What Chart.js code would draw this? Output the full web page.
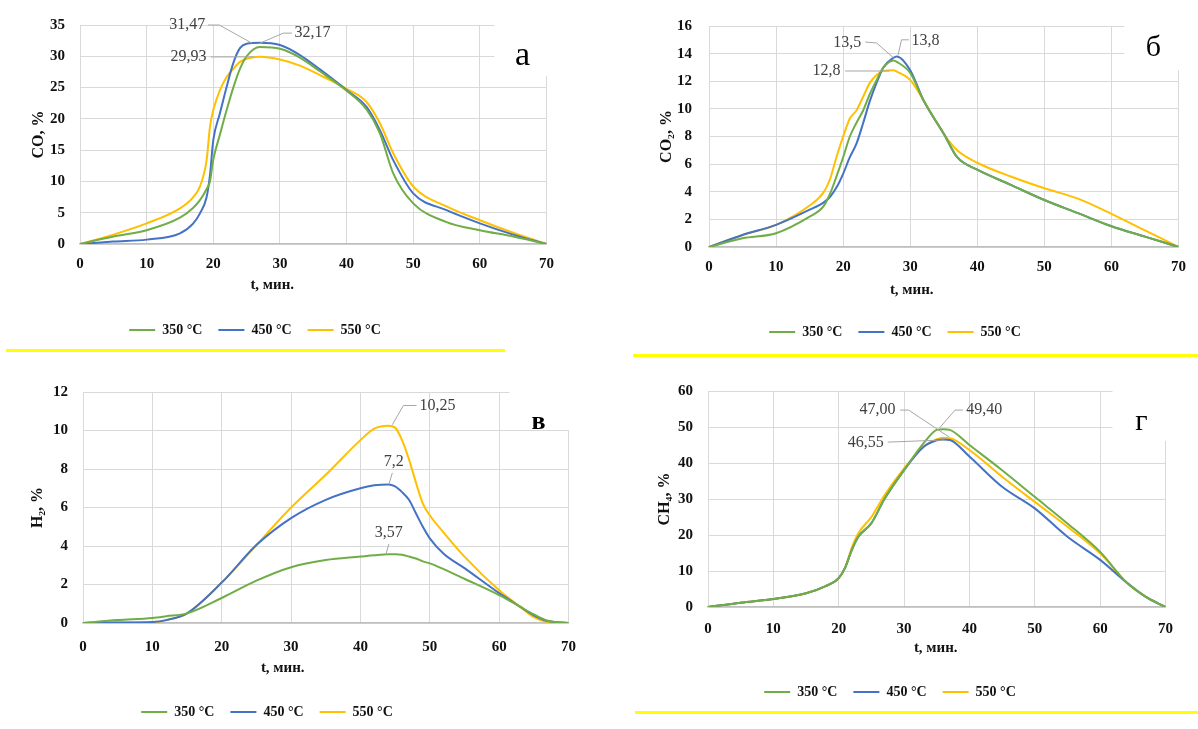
<!DOCTYPE html>
<html><head><meta charset="utf-8">
<script src="https://cdn.jsdelivr.net/npm/chart.js@4/dist/chart.umd.min.js"></script>
<style>
html,body{margin:0;padding:0;background:#fff;}
body{width:1198px;height:729px;overflow:hidden;position:relative;}
canvas{position:absolute;}
.rule{position:absolute;background:#ffff00;height:3px;}
</style></head><body>
<canvas id="ca"></canvas>
<canvas id="cb"></canvas>
<canvas id="cc"></canvas>
<canvas id="cd"></canvas>
<div class="rule" style="left:6px;top:349px;width:499px"></div>
<div class="rule" style="left:633px;top:354px;width:565px"></div>
<div class="rule" style="left:635px;top:711px;width:563px"></div>
<script>
// ---------- data ----------
const seriesNames = ['350 °C', '450 °C', '550 °C'];
const xTitle = 't, мин.';

// а) CO
const timeCO = [0,5,10,15,17,18,19,19.5,20,21,22,23,24,25,27,30,33,36,40,43,45,47,50,55,60,65,70];
const co350  = [0,1.2,2.2,4.2,5.8,7,8.8,10,13.5,17.5,21.4,25,28,30,31.47,31.2,29.8,27.6,24.5,21.5,17.7,11.3,6.5,3.5,2.2,1.2,0];
const co450  = [0,0.4,0.7,1.7,3.3,4.9,7.5,11,16.6,20.9,25.1,28.9,31.3,32,32.17,31.8,30.2,27.9,24.6,21.9,18.2,13.4,8.1,5.4,3.3,1.5,0];
const co550  = [0,1.5,3.3,5.7,7.5,9.2,13.4,18.7,21.4,24.6,26.7,28,29.1,29.6,29.93,29.5,28.5,27,24.8,22.7,19.3,14.5,9.2,6,3.8,1.8,0];
const coPeaks = ['31,47', '32,17', '29,93'];

// б) CO2
const timeCO2 = [0,5,10,15,17,18,19,20,21,22,23,24,25,26,27.5,28,30,32,35,37,40,45,50,55,60,65,70];
const co2_350 = [0,0.63,1.0,2.2,2.9,3.8,5.1,6.5,8,9,9.9,11.1,12.1,13.0,13.5,13.4,12.6,10.6,8.2,6.5,5.6,4.5,3.4,2.45,1.5,0.75,0];
const co2_450 = [0,0.87,1.6,2.7,3.2,3.6,4.3,5.3,6.5,7.5,9,10.6,11.9,13.0,13.7,13.8,12.8,10.6,8.2,6.5,5.6,4.5,3.4,2.45,1.5,0.75,0];
const co2_550 = [0,0.87,1.6,3.0,3.9,4.85,6.5,8.0,9.3,9.9,10.9,11.9,12.45,12.75,12.8,12.7,12.1,10.6,8.2,7.0,6.1,5.1,4.25,3.5,2.4,1.2,0];
const co2Peaks = ['13,5', '13,8', '12,8'];

// в) H2
const timeH2 = [0,5,10,12,15,20,25,30,35,40,42,44,45,46,47,48,49,50,52,55,60,63,65,67,70];
const h2_350 = [0,0.15,0.26,0.35,0.5,1.3,2.2,2.9,3.27,3.45,3.52,3.57,3.57,3.55,3.45,3.35,3.2,3.1,2.8,2.3,1.45,0.85,0.45,0.12,0];
const h2_450 = [0,0.02,0.05,0.15,0.5,2.1,4.05,5.45,6.4,7.0,7.15,7.2,7.1,6.8,6.4,5.7,5.0,4.4,3.6,2.85,1.55,0.85,0.4,0.1,0];
const h2_550 = [0,0.02,0.03,0.15,0.5,2.1,4.05,6.0,7.7,9.5,10.1,10.25,10.15,9.5,8.5,7.3,6.2,5.6,4.7,3.45,1.7,0.85,0.3,0.05,0];
const h2Peaks = ['3,57', '7,2', '10,25'];

// г) CH4
const timeCH4 = [0,5,10,15,18,20,21,22,23,25,27,30,33,35,36,37,40,45,50,55,60,64,67,70];
const ch4_350 = [0,1.2,2.2,3.8,5.8,8.0,11,15.8,19.5,23.3,30,38,45.5,49.2,49.4,49.2,45,38,30.6,23.2,15.3,6.9,2.8,0];
const ch4_450 = [0,1.2,2.2,3.8,5.8,8.0,11,15.8,19.5,23.3,30,38,44.5,46.3,46.55,46.4,41.8,33.4,27.4,19.5,13.1,6.9,2.8,0];
const ch4_550 = [0,1.2,2.2,3.8,5.8,8.0,11,16.5,20.5,25,31,38.5,44.5,46.6,47,46.9,43.6,36.2,29.2,22.3,14.9,6.9,2.8,0];
const ch4Peaks = ['49,40', '46,55', '47,00'];

// ---------- styles ----------
const colors = ['#70ad47', '#4472c4', '#ffc000'];
const SERIF = "'Liberation Serif','Times New Roman','DejaVu Serif',serif";

const notePlugin = {
  id: 'notes',
  afterDraw(chart, args, o) {
    const {ctx, chartArea: ca, scales: {x, y}} = chart;
    ctx.save();
    // white corner box and panel letter
    const b = o.box;
    ctx.fillStyle = '#fff';
    ctx.fillRect(ca.right + b[0], ca.top + b[1], b[2] - b[0], b[3] - b[1]);
    ctx.fillStyle = '#000';
    ctx.font = o.letterFont + ' ' + SERIF;
    ctx.textAlign = 'center';
    ctx.textBaseline = 'middle';
    ctx.fillText(o.letter, ca.right + o.letterPos[0], ca.top + o.letterPos[1]);
    // x axis title
    ctx.font = 'bold 15px ' + SERIF;
    ctx.fillStyle = '#111';
    ctx.fillText(o.xTitle, (ca.left + ca.right) / 2 + o.xTitlePos[0], ca.bottom + o.xTitlePos[1]);
    // peak labels with leader lines
    ctx.font = '16px ' + SERIF;
    o.items.forEach(it => {
      ctx.strokeStyle = '#a6a6a6';
      ctx.lineWidth = 1;
      ctx.beginPath();
      it.path.forEach((p, i) => {
        const px = x.getPixelForValue(p[0]), py = y.getPixelForValue(p[1]);
        if (i === 0) ctx.moveTo(px, py); else ctx.lineTo(px, py);
      });
      ctx.stroke();
      ctx.fillStyle = '#404040';
      ctx.textAlign = it.align;
      ctx.textBaseline = 'middle';
      ctx.fillText(it.text, x.getPixelForValue(it.at[0]), y.getPixelForValue(it.at[1]));
    });
    ctx.restore();
  }
};

function makeChart(id, cfg) {
  const cv = document.getElementById(id);
  cv.width = cfg.w; cv.height = cfg.h;
  cv.style.left = cfg.left + 'px'; cv.style.top = cfg.top + 'px';
  cv.style.width = cfg.w + 'px'; cv.style.height = cfg.h + 'px';
  const tickFont = {family: SERIF, size: 15, weight: 'bold'};
  return new Chart(cv, {
    type: 'line',
    data: {
      datasets: cfg.series.map((s, i) => ({
        label: seriesNames[i],
        data: cfg.t.map((t, k) => ({x: t, y: s[k]})),
        borderColor: colors[i],
        backgroundColor: colors[i],
        borderWidth: 2,
        pointRadius: 0,
        pointStyle: 'line',
        cubicInterpolationMode: 'monotone',
        fill: false
      }))
    },
    options: {
      responsive: false,
      animation: false,
      events: [],
      layout: {padding: {top: cfg.padTop, right: 10, left: 0, bottom: 0}},
      scales: {
        x: {
          type: 'linear', min: 0, max: 70,
          ticks: {stepSize: 10, padding: cfg.xTickPad, font: tickFont, color: '#111'},
          grid: {color: '#d9d9d9', drawTicks: false},
          border: {color: '#bfbfbf', width: 1.5},
          afterFit: s => { s.height = cfg.xH; }
        },
        y: {
          min: 0, max: cfg.yMax,
          ticks: {stepSize: cfg.yStep, padding: cfg.yTickPad, font: tickFont, color: '#111'},
          grid: {color: '#d9d9d9', drawTicks: false},
          border: {color: '#d9d9d9'},
          title: {display: true, text: cfg.yTitle, color: '#111',
                  font: {family: SERIF, size: 16, weight: 'bold'},
                  padding: {top: cfg.yTitlePad, bottom: 0}},
          afterFit: s => { s.width = cfg.yW; }
        }
      },
      plugins: {
        legend: {
          position: 'bottom',
          labels: {usePointStyle: true, pointStyleWidth: 26, padding: 16, color: '#111',
                   font: {family: SERIF, size: 14, weight: 'bold'}}
        },
        tooltip: {enabled: false},
        notes: cfg.notes
      }
    },
    plugins: [notePlugin]
  });
}

makeChart('ca', {
  left: -45, top: 0, w: 610, h: 347, padTop: 25, yW: 125, xH: 63,
  xTickPad: 11, yTickPad: 15, yTitlePad: 74, yMax: 35, yStep: 5, yTitle: 'CO, %',
  t: timeCO, series: [co350, co450, co550],
  notes: {
    box: [-52, -8, 6, 51], letter: 'а', letterFont: '34px', letterPos: [-24, 31],
    xTitle: xTitle, xTitlePos: [-41, 41],
    items: [
      {text: coPeaks[0], at: [18.8, 35.0], align: 'right', path: [[19.2, 35.0], [20.9, 35.0], [25.8, 32.1]]},
      {text: coPeaks[1], at: [32.2, 33.7], align: 'left', path: [[31.8, 33.7], [30.5, 33.7], [26.8, 32.0]]},
      {text: coPeaks[2], at: [19.0, 29.9], align: 'right', path: [[19.6, 29.9], [26.2, 29.9]]}
    ]
  }
});

makeChart('cb', {
  left: 603, top: 0, w: 594, h: 349, padTop: 26, yW: 106, xH: 62,
  xTickPad: 11, yTickPad: 17, yTitlePad: 54, yMax: 16, yStep: 2, yTitle: 'CO₂, %',
  t: timeCO2, series: [co2_350, co2_450, co2_550],
  notes: {
    box: [-54, -8, 6, 44], letter: 'б', letterFont: '30px', letterPos: [-25, 22],
    xTitle: xTitle, xTitlePos: [-32, 43],
    items: [
      {text: co2Peaks[0], at: [22.7, 14.8], align: 'right', path: [[23.3, 14.84], [25.0, 14.77], [27.5, 13.7]]},
      {text: co2Peaks[1], at: [30.2, 14.9], align: 'left', path: [[29.8, 15.0], [28.7, 15.0], [28.2, 13.9]]},
      {text: co2Peaks[2], at: [19.6, 12.74], align: 'right', path: [[20.3, 12.74], [26.9, 12.74]]}
    ]
  }
});

makeChart('cc', {
  left: -47, top: 360, w: 638, h: 369, padTop: 32, yW: 130, xH: 66,
  xTickPad: 15, yTickPad: 15, yTitlePad: 75, yMax: 12, yStep: 2, yTitle: 'H₂, %',
  t: timeH2, series: [h2_350, h2_450, h2_550],
  notes: {
    box: [-59, -8, 6, 38], letter: 'в', letterFont: 'bold 26px', letterPos: [-30, 30],
    xTitle: xTitle, xTitlePos: [-43, 45],
    items: [
      {text: h2Peaks[2], at: [48.5, 11.27], align: 'left', path: [[48.1, 11.3], [46.2, 11.3], [44.6, 10.3]]},
      {text: h2Peaks[1], at: [44.8, 8.36], align: 'center', path: [[44.6, 7.8], [44.1, 7.2]]},
      {text: h2Peaks[0], at: [44.1, 4.68], align: 'center', path: [[44.1, 4.1], [43.7, 3.6]]}
    ]
  }
});

makeChart('cd', {
  left: 604, top: 360, w: 582, h: 349, padTop: 31, yW: 104, xH: 62,
  xTickPad: 13, yTickPad: 15, yTitlePad: 51, yMax: 60, yStep: 10, yTitle: 'CH₄, %',
  t: timeCH4, series: [ch4_350, ch4_450, ch4_550],
  notes: {
    box: [-53, -8, 6, 50], letter: 'г', letterFont: '30px', letterPos: [-24, 31],
    xTitle: xTitle, xTitlePos: [-1, 41],
    items: [
      {text: ch4Peaks[2], at: [28.7, 54.7], align: 'right', path: [[29.4, 54.7], [30.7, 54.7], [36.9, 47.2]]},
      {text: ch4Peaks[0], at: [39.5, 54.7], align: 'left', path: [[39.0, 54.7], [37.8, 54.7], [35.4, 49.7]]},
      {text: ch4Peaks[1], at: [26.9, 45.6], align: 'right', path: [[27.5, 45.8], [36.2, 46.4]]}
    ]
  }
});
</script>
</body></html>
